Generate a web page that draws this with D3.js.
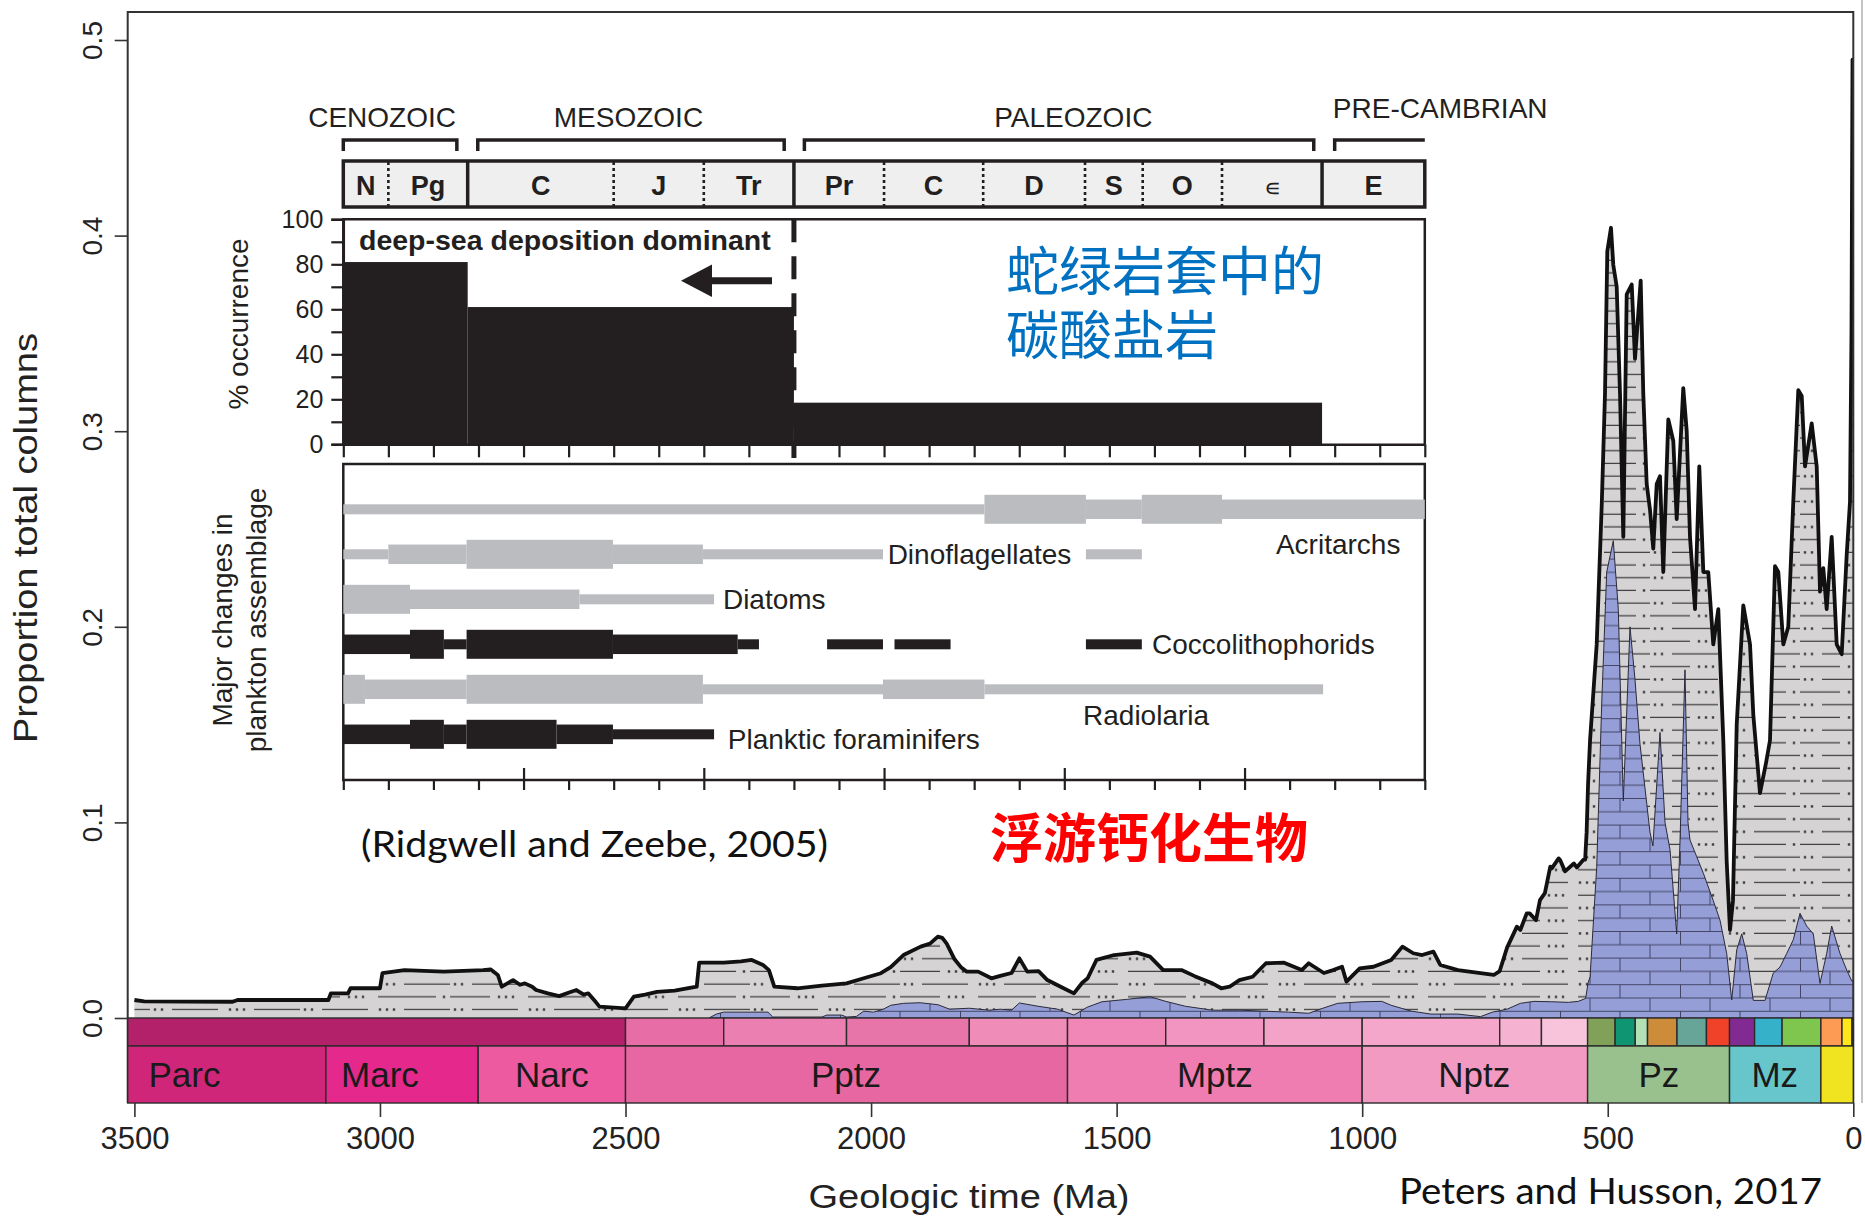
<!DOCTYPE html>
<html>
<head>
<meta charset="utf-8">
<script src="https://cdn.jsdelivr.net/npm/d3@7"></script>
<style>
  body { margin: 0; background: #fff; }
  svg { display: block; }
</style>
</head>
<body>
<svg id="chart" width="1865" height="1218"></svg>
<script>
// ---------- Main series: proportion of total columns vs. age (Ma) ----------
const totalProportion = [
  [3500,0.0092],[3480,0.0085],[3300,0.0083],[3290,0.0092],[3105,0.0092],[3100,0.0126],[3065,0.0126],
  [3060,0.0152],[3000,0.0152],[2995,0.0229],[2950,0.0245],[2870,0.0237],[2790,0.0245],[2775,0.0249],
  [2760,0.022],[2752,0.016],[2729,0.0194],[2715,0.017],[2705,0.0177],[2690,0.016],[2682,0.0143],
  [2658,0.0126],[2635,0.0112],[2615,0.013],[2600,0.0143],[2585,0.012],[2576,0.0126],[2560,0.008],
  [2553,0.0058],[2500,0.0049],[2483,0.0109],[2460,0.012],[2436,0.0134],[2400,0.014],[2355,0.016],
  [2350,0.0283],[2300,0.0283],[2265,0.029],[2243,0.0297],[2220,0.0271],[2208,0.0245],[2197,0.016],
  [2150,0.0152],[2100,0.0165],[2050,0.0177],[2015,0.0203],[1980,0.0229],[1960,0.026],[1934,0.0322],
  [1899,0.0365],[1880,0.038],[1864,0.0416],[1855,0.041],[1846,0.038],[1830,0.03],[1817,0.026],
  [1805,0.0237],[1782,0.0237],[1755,0.0203],[1737,0.0215],[1714,0.023],[1698,0.0305],[1682,0.0237],
  [1659,0.024],[1641,0.0194],[1614,0.016],[1587,0.0126],[1570,0.018],[1559,0.0203],[1541,0.0297],
  [1505,0.0322],[1459,0.0334],[1432,0.0314],[1405,0.0245],[1368,0.0245],[1341,0.0214],[1305,0.0177],
  [1287,0.0152],[1270,0.016],[1250,0.0194],[1223,0.0211],[1196,0.028],[1159,0.0283],[1123,0.0245],
  [1109,0.028],[1078,0.023],[1059,0.0245],[1041,0.0262],[1032,0.0186],[1005,0.0254],[977,0.0262],
  [941,0.0297],[918,0.0365],[896,0.0331],[878,0.0322],[855,0.0339],[841,0.0271],[805,0.0245],
  [759,0.0229],[732,0.022],[720,0.024],[705,0.036],[685,0.0467],[678,0.045],[665,0.0535],[659,0.0535],
  [646,0.05],[638,0.0603],[628,0.0638],[617,0.0774],[614,0.0765],[600,0.0816],[597,0.0808],[587,0.075],
  [569,0.079],[563,0.077],[550,0.0808],[546,0.081],[543,0.095],[540,0.12],[536,0.142],[522.5,0.191],
  [512,0.264],[505.6,0.319],[500.9,0.392],[493.4,0.404],[488.7,0.385],[481.8,0.374],[475,0.319],
  [468.3,0.246],[461.4,0.37],[451.2,0.375],[444.5,0.337],[432.9,0.377],[427.6,0.319],[420.7,0.273],
  [414,0.26],[407.3,0.24],[400.3,0.273],[393.6,0.277],[386.9,0.228],[376.7,0.306],[366.5,0.295],
  [359.6,0.255],[346.2,0.322],[339.2,0.3],[332.5,0.246],[322.3,0.209],[313.6,0.282],[305.4,0.228],
  [295.3,0.228],[285.1,0.191],[274.9,0.209],[264.7,0.142],[257.8,0.08],[251.1,0.045],[245,0.06],
  [237.4,0.15],[224,0.211],[210.3,0.191],[203.6,0.155],[190,0.115],[178,0.13],[169.6,0.142],
  [159.4,0.231],[152.7,0.228],[142.5,0.191],[132.4,0.2],[122.2,0.264],[112,0.321],[105,0.318],
  [98.3,0.282],[84.7,0.304],[74.5,0.282],[67.8,0.218],[61.1,0.23],[54.2,0.209],[44,0.246],
  [33.8,0.191],[23.6,0.186],[13.4,0.237],[6.7,0.264],[3.7,0.35],[1.6,0.49],[0,0.49]
];

// carbonate-bearing columns
const carbonateProportion = [
  [2330,0],[2315,0.002],[2300,0.003],[2210,0.003],[2200,0.0005],[2100,0.0005],[2090,0.0015],
  [2060,0.0015],[2050,0.0005],[2030,0.0008],[2015,0.0035],[1995,0.003],[1975,0.0045],[1960,0.0065],
  [1934,0.0075],[1900,0.0078],[1864,0.0068],[1840,0.0045],[1800,0.005],[1760,0.004],[1737,0.0045],
  [1714,0.004],[1698,0.0077],[1660,0.006],[1620,0.0045],[1587,0.0015],[1560,0.0055],[1530,0.0083],
  [1480,0.0095],[1432,0.0109],[1400,0.0085],[1360,0.006],[1305,0.004],[1250,0.004],[1200,0.0035],
  [1150,0.003],[1109,0.0024],[1080,0.005],[1050,0.0075],[1000,0.0083],[960,0.0085],[941,0.0065],
  [900,0.0035],[860,0.002],[805,0.002],[759,0.0007],[735,0.003],[705,0.0045],[678,0.0075],
  [650,0.0085],[614,0.0083],[580,0.008],[560,0.0085],[545,0.01],[540,0.018],[536,0.021],
  [522.5,0.077],[512,0.163],[502.1,0.228],[488.7,0.244],[478.5,0.209],[468.3,0.111],[454.7,0.2],
  [444.5,0.173],[434.3,0.14],[414,0.095],[408,0.088],[393.6,0.146],[383.4,0.1],[373.2,0.086],
  [359.6,0.043],[352.9,0.09],[342.7,0.178],[336.6,0.1],[332.5,0.091],[318.9,0.0825],[305.4,0.074],
  [285.1,0.06],[271.4,0.05],[257.8,0.033],[247.6,0.0092],[237.4,0.0348],[227.2,0.043],[217.1,0.033],
  [203.6,0.009],[179.8,0.009],[162.9,0.023],[149.3,0.026],[135.6,0.033],[122.2,0.04],[108.5,0.0535],
  [94.9,0.047],[81.5,0.043],[67.8,0.0177],[54.2,0.033],[44,0.047],[27.1,0.033],[13.4,0.0245],
  [3.3,0.019],[0,0.019]
];

const ageTicks = [3500, 3000, 2500, 2000, 1500, 1000, 500, 0];
const proportionTicks = [0, 0.1, 0.2, 0.3, 0.4, 0.5];

// ---------- Geologic timescale bar ----------
const eonNames   = ["Parc", "Marc", "Narc", "Pptz", "Mptz", "Nptz", "Pz", "Mz", ""];
const eonBounds  = [3600, 3110, 2800, 2500, 1600, 1000, 541, 252, 66, 0];
const eonLabelAt = [3398, 3000, 2650, 2051, 1300, 772, 396, 160, 33];
const eonColors  = ["#d0267a", "#e5298c", "#ee5aa0", "#e767a3", "#f07db1", "#f29ac2", "#98c18e", "#66c6cb", "#efe41f"];
const periodBounds = [3600, 2500, 2300, 2050, 1800, 1600, 1400, 1200, 1000, 720, 635, 541, 485, 444, 419, 359, 299, 252, 201, 145, 66, 23, 2.6, 0];
const periodColors = ["#b3216a", "#e66da6", "#eb7fb2", "#e875aa", "#ef8cb8", "#f187b6", "#f296c1", "#f3a2c8",
                      "#f4a6cb", "#f5b2d1", "#f7c4dc", "#80a157", "#0f9571", "#b3e1b6", "#cc8c3a", "#67a599",
                      "#f04229", "#812b92", "#35b2ca", "#7fc64e", "#fd9a54", "#ffe619", "#f9f97f"];

// ---------- Inset: Phanerozoic deep-sea carbonates (Ridgwell & Zeebe) ----------
const eraNames   = ["CENOZOIC", "MESOZOIC", "PALEOZOIC", "PRE-CAMBRIAN"];
const eraFrom    = [0, 74.6, 255.8, 550];
const eraTo      = [63, 244.6, 538.4, 600];
const eraLabelAt = [21.5, 158.2, 405, 549];

const periodNames  = ["N", "Pg", "C", "J", "Tr", "Pr", "C", "D", "S", "O", "\u220A", "E"];
const periodEdges  = [0, 25, 69, 150, 200, 250, 300, 355, 411.5, 443.5, 487.5, 543, 600];
const eraBreaks    = [69, 250, 543];

const occurrenceFrom = [0, 69, 250];
const occurrenceTo   = [69, 250, 543];
const occurrencePct  = [81, 61, 18.5];
const occurrenceTicks = [0, 20, 40, 60, 80, 100];

const taxa = ["Acritarchs", "Dinoflagellates", "Diatoms", "Coccolithophorids", "Radiolaria", "Planktic foraminifers"];
const taxaCalcareous = [false, false, false, true, false, true];
// [from Ma, to Ma, abundance level 1..3]
const taxaRanges = [
  [[0,355.7,1],[355.7,412,3],[412,443,2],[443,487.5,3],[487.5,600,2]],
  [[0,25,1],[25,68.4,2],[68.4,149.6,3],[149.6,199.5,2],[199.5,299.4,1],[412,443,1]],
  [[0,37,3],[37,131,2],[131,205.7,1]],
  [[0,37,2],[37,55.8,3],[55.8,68.4,1],[68.4,149.6,3],[149.6,218.8,2],[218.8,230.6,1],[268.4,299.4,1],[305.8,336.9,1],[412,443,1]],
  [[0,12,3],[12,68.4,2],[68.4,199.5,3],[199.5,299.4,1],[299.4,355.7,2],[355.7,543.6,1]],
  [[0,37,2],[37,55.8,3],[55.8,68.4,2],[68.4,118.3,3],[118.3,149.6,2],[149.6,205.7,1]]
];
const taxaLabelAt = [517.4, 302, 210.6, 448.7, 410.4, 213.3];
const taxaLabelDy = [45, 10, 10, 10, 36, 15];

// ======================================================================
const svg = d3.select("#chart");
const SANS = "'Liberation Sans', Arial, Helvetica, sans-serif";
const INK = "#231f20";

const plot = { left: 127.7, right: 1853.3, top: 12, bottom: 1018 };
const x = d3.scaleLinear().domain([3500, 0]).range([134.4, 1853.3]);
const y = d3.scaleLinear().domain([0, 0.5]).range([1018, 40]);

const defs = svg.append("defs");
defs.append("clipPath").attr("id", "plotClip")
  .append("rect").attr("x", plot.left).attr("y", plot.top)
  .attr("width", plot.right - plot.left).attr("height", plot.bottom - plot.top);

// siliciclastic fill: dashes and dot groups
const clastic = defs.append("pattern").attr("id", "clastic")
  .attr("patternUnits", "userSpaceOnUse").attr("width", 150).attr("height", 25.4);
clastic.append("rect").attr("width", 150).attr("height", 25.4).attr("fill", "#d5d3d4");
[[0, 6.3, 40], [78, 6.3, 136], [22, 19, 68], [104, 19, 150]].forEach(([a, yy, b]) =>
  clastic.append("line").attr("x1", a).attr("x2", b).attr("y1", yy).attr("y2", yy)
    .attr("stroke", "#3d3d3d").attr("stroke-width", 1.3));
[[49, 6.3], [56, 6.3], [63, 6.3], [144, 6.3], [5, 19], [12, 19], [80, 19], [87, 19], [94, 19]].forEach(([a, b]) =>
  clastic.append("rect").attr("x", a - 1.2).attr("y", b - 1.2).attr("width", 2.4).attr("height", 2.4).attr("fill", "#3d3d3d"));

// limestone fill: brick courses
const lime = defs.append("pattern").attr("id", "limestone")
  .attr("patternUnits", "userSpaceOnUse").attr("width", 120).attr("height", 26.6);
lime.append("rect").attr("width", 120).attr("height", 26.6).attr("fill", "#959ed6");
lime.append("path")
  .attr("d", "M0 0.5H120 M0 13.8H120 M0.5 0V13.8 M60 0V13.8 M30 13.8V26.6 M90 13.8V26.6")
  .attr("stroke", "#3a3d5c").attr("stroke-width", 0.9).attr("fill", "none");

// ---------- series ----------
const gSeries = svg.append("g").attr("clip-path", "url(#plotClip)");
const area = d3.area().x(d => x(d[0])).y0(y(0)).y1(d => y(d[1]));
const line = d3.line().x(d => x(d[0])).y(d => y(d[1]));

gSeries.append("path").datum(totalProportion).attr("d", area).attr("fill", "url(#clastic)");
gSeries.append("path").datum(carbonateProportion).attr("d", area)
  .attr("fill", "url(#limestone)").attr("stroke", "#2a2a3a").attr("stroke-width", 1);
gSeries.append("path").datum(totalProportion).attr("d", line)
  .attr("fill", "none").attr("stroke", "#111").attr("stroke-width", 3.8)
  .attr("stroke-linejoin", "round");

// ---------- frame ----------
svg.append("path")
  .attr("d", `M${plot.left},1103 V${plot.top} H${plot.right} V1103`)
  .attr("fill", "none").attr("stroke", "#333").attr("stroke-width", 2);
svg.append("line").attr("x1", 1862).attr("x2", 1862).attr("y1", 0).attr("y2", 1103)
  .attr("stroke", "#c4c4c4").attr("stroke-width", 2);

// ---------- timescale bars ----------
const clampX = v => Math.max(plot.left, Math.min(plot.right, x(v)));
const periodCells = d3.range(periodColors.length).map(i => ({ a: periodBounds[i], b: periodBounds[i + 1], c: periodColors[i] }));
svg.append("g").selectAll("rect").data(periodCells).join("rect")
  .attr("x", d => clampX(d.a)).attr("width", d => clampX(d.b) - clampX(d.a))
  .attr("y", 1018).attr("height", 28)
  .attr("fill", d => d.c).attr("stroke", "#2b2b2b").attr("stroke-width", 1.4);

const eonCells = d3.range(eonColors.length).map(i => ({ a: eonBounds[i], b: eonBounds[i + 1], c: eonColors[i], n: eonNames[i], at: eonLabelAt[i] }));
const gEon = svg.append("g");
gEon.selectAll("rect").data(eonCells).join("rect")
  .attr("x", d => clampX(d.a)).attr("width", d => clampX(d.b) - clampX(d.a))
  .attr("y", 1046).attr("height", 57)
  .attr("fill", d => d.c).attr("stroke", "#2b2b2b").attr("stroke-width", 1.4);
gEon.selectAll("text").data(eonCells.filter(d => d.n)).join("text")
  .attr("x", d => x(d.at)).attr("y", 1087)
  .attr("text-anchor", "middle").attr("font-family", SANS).attr("font-size", 35)
  .attr("fill", "#1a1a1a").text(d => d.n);

// ---------- axes ----------
const gx = svg.append("g").attr("transform", "translate(0,1103)")
  .call(d3.axisBottom(x).tickValues(ageTicks).tickSize(14).tickPadding(10).tickFormat(d3.format("d")));
gx.select(".domain").remove();
gx.selectAll("line").attr("stroke", "#333").attr("stroke-width", 1.6);
gx.selectAll("text").attr("font-family", SANS).attr("font-size", 31).attr("fill", "#222");

const gy = svg.append("g").attr("transform", `translate(${plot.left},0)`)
  .call(d3.axisLeft(y).tickValues(proportionTicks).tickSize(13).tickFormat(d3.format(".1f")));
gy.select(".domain").remove();
gy.selectAll("line").attr("stroke", "#333").attr("stroke-width", 1.6);
gy.selectAll("text").attr("x", 0).attr("y", -26).attr("dy", null)
  .attr("transform", "rotate(-90)").attr("text-anchor", "middle")
  .attr("font-family", SANS).attr("font-size", 28).attr("fill", "#222");

svg.append("text").attr("x", 969).attr("y", 1208).attr("text-anchor", "middle")
  .attr("font-family", SANS).attr("font-size", 34).attr("fill", "#222")
  .attr("textLength", 321).attr("lengthAdjust", "spacingAndGlyphs")
  .text("Geologic time (Ma)");
svg.append("text").attr("transform", "translate(37,538) rotate(-90)").attr("text-anchor", "middle")
  .attr("font-family", SANS).attr("font-size", 33).attr("fill", "#222")
  .attr("textLength", 410).attr("lengthAdjust", "spacingAndGlyphs")
  .text("Proportion total columns");

// ======================================================================
// Inset
const ix = d3.scaleLinear().domain([0, 600]).range([343.3, 1424.8]);
const iy = d3.scaleLinear().domain([0, 100]).range([444.3, 219.3]);
const gIn = svg.append("g").attr("font-family", SANS).attr("fill", INK);

// era brackets and names
eraNames.forEach((name, i) => {
  const a = ix(eraFrom[i]), b = ix(eraTo[i]);
  const last = i === eraNames.length - 1;
  const d = last ? `M${a},151 V140 H${b}` : `M${a},151 V140 H${b} V151`;
  gIn.append("path").attr("d", d).attr("fill", "none").attr("stroke", INK).attr("stroke-width", 3.5);
  gIn.append("text").attr("x", ix(eraLabelAt[i])).attr("y", last ? 118 : 127)
    .attr("text-anchor", last ? "start" : "middle").attr("font-size", 28).text(name);
});

// period strip
gIn.append("rect").attr("x", ix(0)).attr("y", 161).attr("width", ix(600) - ix(0)).attr("height", 46)
  .attr("fill", "#efefef").attr("stroke", INK).attr("stroke-width", 3.5);
periodEdges.slice(1, -1).forEach(e => {
  const solid = eraBreaks.includes(e);
  gIn.append("line").attr("x1", ix(e)).attr("x2", ix(e)).attr("y1", 162).attr("y2", 206)
    .attr("stroke", INK).attr("stroke-width", solid ? 3.5 : 2.6)
    .attr("stroke-dasharray", solid ? null : "3,3");
});
periodNames.forEach((n, i) => {
  const cx = (ix(periodEdges[i]) + ix(periodEdges[i + 1])) / 2;
  const sym = n === "\u220A";
  gIn.append("text").attr("x", cx).attr("y", sym ? 196 : 195).attr("text-anchor", "middle")
    .attr("font-size", sym ? 24 : 27).attr("font-weight", sym ? "normal" : "bold").text(n);
});

// occurrence panel
gIn.append("rect").attr("x", ix(0)).attr("y", iy(100)).attr("width", ix(600) - ix(0)).attr("height", iy(0) - iy(100))
  .attr("fill", "#fff");
gIn.append("g").selectAll("rect").data(occurrencePct).join("rect")
  .attr("x", (d, i) => ix(occurrenceFrom[i]))
  .attr("width", (d, i) => ix(occurrenceTo[i]) - ix(occurrenceFrom[i]))
  .attr("y", d => iy(d)).attr("height", d => iy(0) - iy(d)).attr("fill", INK);
gIn.append("path")
  .attr("d", `M${ix(0)},${iy(0)} V${iy(100)} H${ix(600)} V${iy(0)}`)
  .attr("fill", "none").attr("stroke", INK).attr("stroke-width", 2.5);

const giy = gIn.append("g").attr("transform", `translate(${ix(0)},0)`)
  .call(d3.axisLeft(iy).tickValues(d3.range(0, 101, 10)).tickSize(12).tickPadding(8)
    .tickFormat(d => occurrenceTicks.includes(d) ? d : ""));
giy.select(".domain").attr("stroke", INK).attr("stroke-width", 2.5);
giy.selectAll("line").attr("stroke", INK).attr("stroke-width", 2.2);
giy.selectAll("text").attr("font-family", SANS).attr("font-size", 25).attr("fill", INK);

const gix = gIn.append("g").attr("transform", `translate(0,${iy(0)})`)
  .call(d3.axisBottom(ix).tickValues(d3.range(0, 601, 25)).tickSize(13).tickSizeOuter(0).tickFormat(""));
gix.select(".domain").attr("stroke", INK).attr("stroke-width", 2.5);
gix.selectAll("line").attr("stroke", INK).attr("stroke-width", 2.2);

gIn.append("text").attr("transform", `translate(248,324) rotate(-90)`).attr("text-anchor", "middle")
  .attr("font-size", 28).text("% occurrence");

// Mesozoic / Paleozoic boundary marker and arrow
gIn.append("line").attr("x1", ix(250)).attr("x2", ix(250)).attr("y1", iy(100)).attr("y2", 458)
  .attr("stroke", INK).attr("stroke-width", 5).attr("stroke-dasharray", "23,14");
gIn.append("line").attr("x1", 772).attr("x2", 705).attr("y1", 280.7).attr("y2", 280.7)
  .attr("stroke", INK).attr("stroke-width", 7);
gIn.append("path").attr("d", "M681,280.7 L712,264.5 L712,296.9 Z").attr("fill", INK);
gIn.append("text").attr("x", 359).attr("y", 250).attr("font-size", 28.5).attr("font-weight", "bold")
  .text("deep-sea deposition dominant");

// plankton panel
const rowY = d3.scalePoint().domain(taxa).range([509.3, 734.3]);
const thick = d3.scaleLinear().domain([1, 3]).range([10, 29]);
gIn.append("rect").attr("x", ix(0)).attr("y", 464).attr("width", ix(600) - ix(0)).attr("height", 316)
  .attr("fill", "#fff").attr("stroke", INK).attr("stroke-width", 2.5);

taxa.forEach((t, i) => {
  const col = taxaCalcareous[i] ? INK : "#bbbcbf";
  gIn.append("g").selectAll("rect").data(taxaRanges[i]).join("rect")
    .attr("x", d => ix(d[0])).attr("width", d => ix(d[1]) - ix(d[0]))
    .attr("y", d => rowY(t) - thick(d[2]) / 2).attr("height", d => thick(d[2]))
    .attr("fill", col);
  gIn.append("text").attr("x", ix(taxaLabelAt[i]))
    .attr("y", rowY(t) + taxaLabelDy[i])
    .attr("font-size", 28).text(t);
});

const gpx = gIn.append("g").attr("transform", "translate(0,780)")
  .call(d3.axisBottom(ix).tickValues(d3.range(0, 601, 25)).tickSize(10).tickSizeOuter(0).tickFormat(""));
gpx.select(".domain").remove();
gpx.selectAll("line").attr("stroke", INK).attr("stroke-width", 2.2)
  .filter(d => d % 100 === 0 && d > 0 && d < 600).attr("y1", -12);

gIn.append("text").attr("transform", "translate(232,620) rotate(-90)").attr("text-anchor", "middle")
  .attr("font-size", 28).text("Major changes in");
gIn.append("text").attr("transform", "translate(266,620) rotate(-90)").attr("text-anchor", "middle")
  .attr("font-size", 28).text("plankton assemblage");

// ---------- annotations ----------
const CJK = "'Noto Sans CJK SC', sans-serif";
const ophiolite = svg.append("text").attr("font-family", CJK).attr("font-size", 53).attr("fill", "#0070c0");
ophiolite.append("tspan").attr("x", 1006).attr("y", 291).text("蛇绿岩套中的");
ophiolite.append("tspan").attr("x", 1006).attr("y", 355).text("碳酸盐岩");
svg.append("text").attr("x", 990).attr("y", 858).attr("font-family", CJK).attr("font-size", 53)
  .attr("font-weight", "bold").attr("fill", "#ff0000").text("浮游钙化生物");

svg.append("text").attr("x", 361).attr("y", 857).attr("font-family", "Lato, 'Open Sans', sans-serif")
  .attr("font-size", 36).attr("fill", "#111").attr("textLength", 467).attr("lengthAdjust", "spacingAndGlyphs")
  .text("(Ridgwell and Zeebe, 2005)");
svg.append("text").attr("x", 1399).attr("y", 1204).attr("font-family", "Lato, 'Open Sans', sans-serif")
  .attr("font-size", 37).attr("fill", "#111").attr("textLength", 423).attr("lengthAdjust", "spacingAndGlyphs")
  .text("Peters and Husson, 2017");
</script>
</body>
</html>
